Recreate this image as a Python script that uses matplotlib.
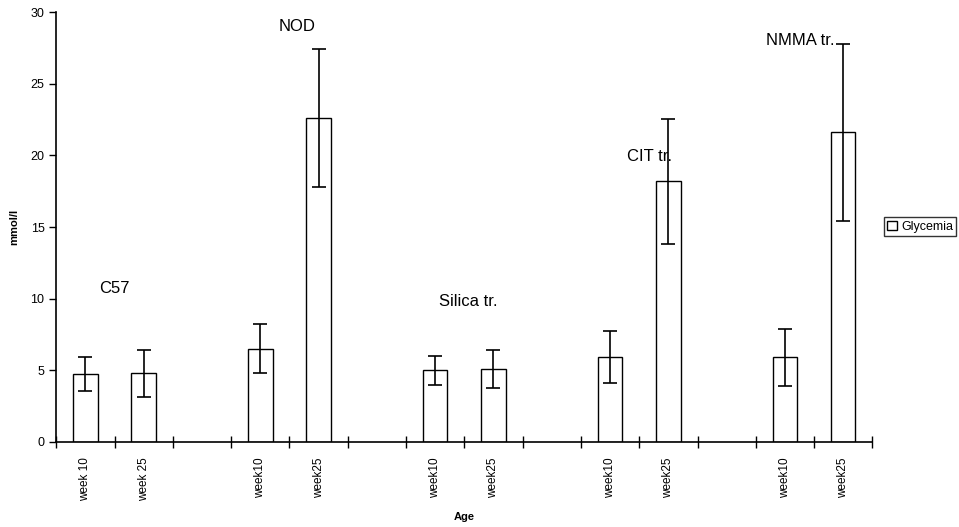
import matplotlib
matplotlib.use('Agg')
import matplotlib.pyplot as plt
import numpy as np

plt.rcParams['font.family'] = ['Liberation Sans', 'DejaVu Sans']

# category slots (blank slots separate the groups)
labels = ['week 10', 'week 25', '', 'week10', 'week25', '', 'week10', 'week25',
          '', 'week10', 'week25', '', 'week10', 'week25']
bar_pos = [0, 1, 3, 4, 6, 7, 9, 10, 12, 13]
glycemia = [4.75, 4.8, 6.5, 22.6, 5.0, 5.1, 5.95, 18.2, 5.9, 21.6]
errors = [1.2, 1.65, 1.7, 4.8, 1.0, 1.3, 1.8, 4.35, 2.0, 6.2]

groups = ['C57', 'NOD', 'Silica tr.', 'CIT tr.', 'NMMA tr.']
group_x = [0.5, 3.63, 6.56, 9.68, 12.27]
group_y = [10.7, 29.0, 9.8, 19.9, 28.0]

fig = plt.figure(figsize=(9.59, 5.27), dpi=100)
ax = fig.add_axes([0.0587, 0.1613, 0.851, 0.8157])

ax.bar(bar_pos, glycemia, width=0.42, color='white', edgecolor='black',
       linewidth=1.0, label='Glycemia', zorder=2)
ax.errorbar(bar_pos, glycemia, yerr=errors, fmt='none', ecolor='black',
            elinewidth=1.2, capsize=5, capthick=1.2, zorder=3)

for g, x, y in zip(groups, group_x, group_y):
    ax.text(x, y, g, ha='center', va='center', fontsize=12)

ax.set_xlim(-0.5, 13.5)
ax.set_ylim(0, 30)
ax.set_yticks(np.arange(0, 31, 5))
ax.set_xticks(range(len(labels)))
ax.set_xticklabels(labels, rotation=90, fontsize=8.5)
ax.set_xticks(np.arange(-0.5, 14, 1), minor=True)
ax.tick_params(axis='x', which='major', length=0, pad=11)
ax.tick_params(axis='x', which='minor', length=8, direction='inout', width=1)
ax.tick_params(axis='y', length=5, width=1, labelsize=9)

ax.spines['top'].set_visible(False)
ax.spines['right'].set_visible(False)
ax.spines['left'].set_linewidth(1.2)
ax.spines['bottom'].set_linewidth(1.2)

ax.set_ylabel('mmol/l', fontsize=8, fontweight='bold', labelpad=8)
ax.set_xlabel('Age', fontsize=8, fontweight='bold', labelpad=8)

leg = fig.legend(loc='center left', bbox_to_anchor=(0.922, 0.57), fontsize=9,
                 frameon=True, fancybox=False, edgecolor='black',
                 handlelength=0.8, handleheight=0.8, handletextpad=0.3,
                 borderpad=0.25, borderaxespad=0)
leg.get_frame().set_linewidth(1.0)

fig.savefig('out.png', dpi=100)
